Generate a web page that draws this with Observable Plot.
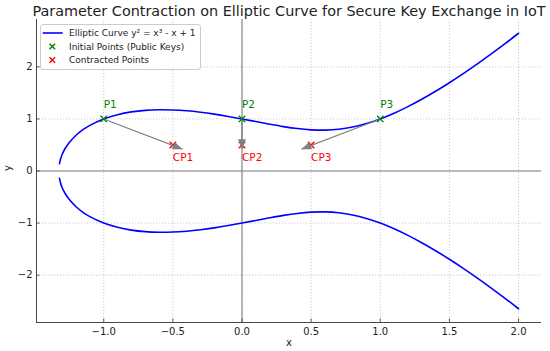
<!DOCTYPE html>
<html><head><meta charset="utf-8">
<script src="https://cdn.jsdelivr.net/npm/d3@7"></script>
<script src="https://cdn.jsdelivr.net/npm/@observablehq/plot@0.6"></script>
<style>
body{margin:0;background:#fff;}
#wrap{position:relative;width:550px;height:351px;font-family:"DejaVu Sans",sans-serif;}
#legend{position:absolute;left:40px;top:24px;}
</style></head><body><div id="wrap"></div>
<script>
// Curve samples of y^2 = x^3 - x + 1
const curveX = [-1.32,-1.31,-1.30,-1.28,-1.25,-1.2,-1.15,-1.1,-1.0,-0.9,-0.8,-0.7,-0.6,-0.5,-0.4,-0.3,-0.2,-0.1,0,0.1,0.2,0.3,0.4,0.5,0.6,0.7,0.8,0.9,1.0,1.1,1.2,1.3,1.4,1.5,1.6,1.7,1.8,1.9,2.0];
const upperY = [0.1415,0.2488,0.3209,0.4276,0.5449,0.6870,0.7932,0.8769,1.0,1.0821,1.1349,1.1649,1.1764,1.1726,1.1559,1.1283,1.0918,1.0483,1.0,0.9492,0.8989,0.8526,0.8149,0.7906,0.7849,0.8019,0.8438,0.9105,1.0,1.1095,1.2361,1.3773,1.5310,1.6956,1.8698,2.0526,2.2432,2.4411,2.6458];
const lowerY = [-0.1415,-0.2488,-0.3209,-0.4276,-0.5449,-0.6870,-0.7932,-0.8769,-1.0,-1.0821,-1.1349,-1.1649,-1.1764,-1.1726,-1.1559,-1.1283,-1.0918,-1.0483,-1.0,-0.9492,-0.8989,-0.8526,-0.8149,-0.7906,-0.7849,-0.8019,-0.8438,-0.9105,-1.0,-1.1095,-1.2361,-1.3773,-1.5310,-1.6956,-1.8698,-2.0526,-2.2432,-2.4411,-2.6458];

const pointX = [-1, 0, 1];
const pointY = [1, 1, 1];
const pointLabels = ["P1", "P2", "P3"];
const contractedX = [-0.5, 0, 0.5];
const contractedY = [0.5, 0.5, 0.5];
const contractedLabels = ["CP1", "CP2", "CP3"];
const arrowTipX = [-0.43, 0, 0.43];
const arrowTipY = [0.42, 0.42, 0.42];

const xTicks = [-1, -0.5, 0, 0.5, 1, 1.5, 2];
const yTicks = [-2, -1, 0, 1, 2];
const xDomain = [-1.486, 2.166];
const yDomain = [-2.91, 2.91];

const titleText = "Parameter Contraction on Elliptic Curve for Secure Key Exchange in IoT";
const legendLabels = ["Elliptic Curve y\u00b2 = x\u00b3 - x + 1", "Initial Points (Public Keys)", "Contracted Points"];
const xLabel = "x", yLabel = "y";

// tables
const curveRows = [
  ...curveX.map((x, i) => ({x, y: upperY[i], branch: "upper"})),
  ...curveX.map((x, i) => ({x, y: lowerY[i], branch: "lower"}))
];
const points = pointX.map((x, i) => ({x, y: pointY[i], label: pointLabels[i]}));
const contracted = contractedX.map((x, i) => ({x, y: contractedY[i], label: contractedLabels[i]}));
const arrows = pointX.map((x, i) => ({x1: x, y1: pointY[i], x2: arrowTipX[i], y2: arrowTipY[i]}));

const W = 550, H = 351, mL = 36, mR = 9, mT = 19, mB = 29;
const fw = W - mL - mR, fh = H - mT - mB;
const tickLen = 3.5;
const spine = "#333";

function filledArrow(color, context) {
  const ns = "http://www.w3.org/2000/svg";
  const m = context.document.createElementNS(ns, "marker");
  m.setAttribute("viewBox", "-10 -4 10 8");
  m.setAttribute("markerWidth", "10");
  m.setAttribute("markerHeight", "8");
  m.setAttribute("markerUnits", "userSpaceOnUse");
  m.setAttribute("orient", "auto");
  m.setAttribute("refX", "0");
  m.setAttribute("refY", "0");
  const p = context.document.createElementNS(ns, "path");
  p.setAttribute("d", "M-10,-4L0,0L-10,4Z");
  p.setAttribute("fill", color);
  p.setAttribute("stroke", "none");
  m.appendChild(p);
  return m;
}

const chart = Plot.plot({
  width: W, height: H,
  marginLeft: mL, marginRight: mR, marginTop: mT, marginBottom: mB,
  style: {fontFamily: "'DejaVu Sans', sans-serif", fontSize: "10px", color: "#222", background: "#fff"},
  x: {domain: xDomain},
  y: {domain: yDomain},
  marks: [
    Plot.gridX(xTicks, {stroke: "#b0b0b0", strokeOpacity: 0.8, strokeDasharray: "1.2,1.8", strokeWidth: 0.8}),
    Plot.gridY(yTicks, {stroke: "#b0b0b0", strokeOpacity: 0.8, strokeDasharray: "1.2,1.8", strokeWidth: 0.8}),
    Plot.ruleX([0], {stroke: "gray", strokeWidth: 1.1}),
    Plot.ruleY([0], {stroke: "gray", strokeWidth: 1.1}),
    Plot.ruleX([xDomain[0]], {stroke: spine, strokeWidth: 0.9}),
    Plot.ruleY([yDomain[0]], {stroke: spine, strokeWidth: 0.9}),
    Plot.tickX(xTicks, {x: d => d, insetTop: fh - tickLen, stroke: spine, strokeWidth: 0.8}),
    Plot.tickY(yTicks, {y: d => d, insetRight: fw - tickLen, stroke: spine, strokeWidth: 0.8}),
    Plot.axisX(xTicks, {tickSize: 0, tickPadding: 5, tickFormat: d3.format(".1f"), fontSize: 10, fill: "#222"}),
    Plot.axisY(yTicks, {tickSize: 0, tickPadding: 4, tickFormat: d3.format("d"), fontSize: 10, fill: "#222"}),
    Plot.line(curveRows, {x: "x", y: "y", z: "branch", stroke: "blue", strokeWidth: 1.6, curve: "catmull-rom"}),
    Plot.dot(contracted, {x: "x", y: "y", symbol: "times", r: 3, stroke: "red", strokeWidth: 1.4}),
    Plot.link(arrows, {x1: "x1", y1: "y1", x2: "x2", y2: "y2", stroke: "gray", strokeWidth: 1.2, markerEnd: filledArrow}),
    Plot.dot(points, {x: "x", y: "y", symbol: "times", r: 3, stroke: "green", strokeWidth: 1.4}),
    Plot.text(points, {x: "x", y: "y", text: "label", fill: "green", fontSize: 10.5, textAnchor: "start", dy: -14}),
    Plot.text(contracted, {x: "x", y: "y", text: "label", fill: "red", fontSize: 10.5, textAnchor: "start", dy: 12.5}),
    Plot.text([titleText], {frameAnchor: "top", text: d => d, fontSize: 14.4, fill: "#222", lineAnchor: "bottom", dy: -3.5}),
    Plot.text([xLabel], {frameAnchor: "bottom", text: d => d, fontSize: 10, fill: "#222", dy: 23}),
    Plot.text([yLabel], {frameAnchor: "left", text: d => d, fontSize: 10, fill: "#222", dx: -29, rotate: -90})
  ]
});
const wrap = document.getElementById("wrap");
wrap.appendChild(chart);

// legend overlay
const lg = d3.create("svg").attr("id", "legend").attr("width", 162).attr("height", 47)
  .style("font-family", "'DejaVu Sans', sans-serif").style("font-size", "9px");
lg.append("rect").attr("x", 0.5).attr("y", 0.5).attr("width", 160).attr("height", 45).attr("rx", 2.5)
  .attr("fill", "#fff").attr("fill-opacity", 0.8).attr("stroke", "#cccccc");
const rowY = [9, 22.5, 36];
lg.append("line").attr("x1", 2.7).attr("x2", 22.7).attr("y1", rowY[0]).attr("y2", rowY[0]).attr("stroke", "blue").attr("stroke-width", 1.6);
[["green", rowY[1]], ["red", rowY[2]]].forEach(([c, y]) => {
  lg.append("path").attr("d", `M${12.3-2.8},${y-2.8}L${12.3+2.8},${y+2.8}M${12.3-2.8},${y+2.8}L${12.3+2.8},${y-2.8}`)
    .attr("stroke", c).attr("stroke-width", 1.4).attr("fill", "none");
});
legendLabels.forEach((t, i) => {
  lg.append("text").attr("x", 29).attr("y", rowY[i]).attr("dy", "0.35em").attr("fill", "#222").text(t);
});
wrap.appendChild(lg.node());
</script></body></html>
